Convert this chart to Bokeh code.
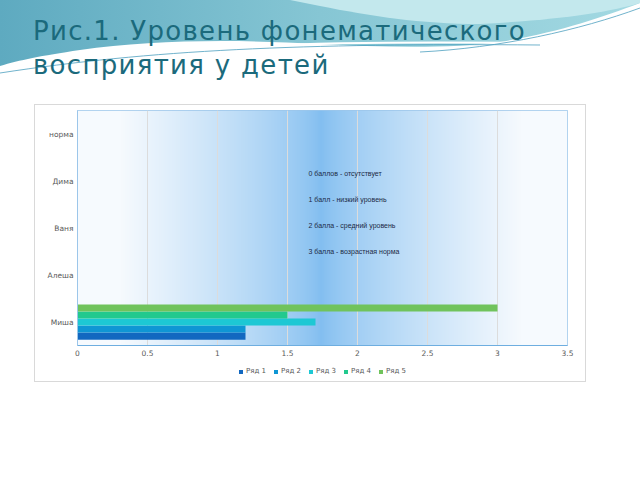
import numpy as np
from bokeh.plotting import figure
from bokeh.layouts import column
from bokeh.models import (FactorRange, Range1d, Legend, LegendItem, Label, Div,
                          FixedTicker, ColumnDataSource)
from bokeh.transform import dodge
from bokeh.embed import file_html
from bokeh.resources import INLINE

# ---- data ----
categories = ["Миша", "Алеша", "Ваня", "Дима", "норма"]
series_names = ["Ряд 1", "Ряд 2", "Ряд 3", "Ряд 4", "Ряд 5"]
series_values = {
    "Ряд 1": [1.2, 0, 0, 0, 0],
    "Ряд 2": [1.2, 0, 0, 0, 0],
    "Ряд 3": [1.7, 0, 0, 0, 0],
    "Ряд 4": [1.5, 0, 0, 0, 0],
    "Ряд 5": [3.0, 0, 0, 0, 0],
}
x_ticks = [0, 0.5, 1, 1.5, 2, 2.5, 3, 3.5]
notes = ["0 баллов - отсутствует", "1 балл - низкий уровень",
         "2 балла - средний уровень", "3 балла - возрастная норма"]
title_lines = ["Рис.1. Уровень фонематического", "восприятия у детей"]

# ---- styles ----
colors = ["#1268c0", "#0f96d4", "#1dc8d4", "#22c98e", "#70c35c"]
offsets = [-0.3, -0.15, 0.0, 0.15, 0.3]
bar_h = 0.15

# header (title + decorative wave)
wave_svg = (
    '<svg width="640" height="105" style="position:absolute;left:0;top:0">'
    '<defs><linearGradient id="g1" x1="0" x2="1" y1="0" y2="0">'
    '<stop offset="0" stop-color="#5eaac0"/><stop offset="0.5" stop-color="#86c6d4"/>'
    '<stop offset="1" stop-color="#a3d9e2"/></linearGradient></defs>'
    '<path d="M0,0 L640,0 L640,3 C600,18 560,32 500,42 C450,49 380,47 320,44 '
    'C230,39 150,40 80,50 C40,56 20,60 0,66 Z" fill="url(#g1)"/>'
    '<path d="M290,0 L640,0 L640,3 C610,12 560,20 480,24 C420,24 370,16 320,6 Z" fill="#c3e8ed"/>'
    '<path d="M0,70 C150,47 300,40 530,43" stroke="#ffffff" stroke-width="2" fill="none"/>'
    '<path d="M0,73 C150,50 300,43 540,45" stroke="#4d9fbf" stroke-width="0.8" fill="none"/>'
    '<path d="M420,52 C500,48 580,30 640,8" stroke="#4d9fbf" stroke-width="0.8" fill="none"/>'
    '</svg>'
)
title_html = (
    '<div style="position:relative;width:640px;height:105px;">' + wave_svg +
    '<div style="position:absolute;left:33px;top:14px;font-family:\'DejaVu Sans\';'
    'font-size:26px;line-height:34px;letter-spacing:1.3px;color:#1b6a7c;white-space:nowrap;">' +
    "<br>".join(title_lines) + '</div></div>'
)
header = Div(text=title_html, width=640, height=105, margin=(0, 0, 0, 0))

FW, FH = 490, 235
p = figure(frame_width=FW, frame_height=FH, y_range=FactorRange(*categories),
           x_range=Range1d(0, 3.5), output_backend="svg", toolbar_location=None,
           min_border_left=42, min_border_right=18, min_border_top=5, min_border_bottom=16,
           margin=(0, 0, 0, 0))
p.background_fill_color = "#f5f9fe"
p.border_fill_color = "white"
p.outline_line_color = "#9cc6ea"

# gradient background of the plot area
px = np.arange(FW)
d = np.abs(px - 243) / 200.0
t = np.clip(d, 0, 1) ** 0.75
c0 = np.array([130, 190, 240])
c1 = np.array([246, 250, 254])
cols = (c0[None, :] * (1 - t[:, None]) + c1[None, :] * t[:, None]).astype(np.uint32)
img = np.empty((1, FW), dtype=np.uint32)
view = img.view(dtype=np.uint8).reshape((1, FW, 4))
view[0, :, 0] = cols[:, 0]
view[0, :, 1] = cols[:, 1]
view[0, :, 2] = cols[:, 2]
view[0, :, 3] = 255
r_img = p.image_rgba(image=[img], x=0, y=0, dw=3.5, dh=len(categories))
r_img.level = "image"

src = ColumnDataSource(dict(cat=categories, **{k: v for k, v in series_values.items()}))
for name, col, off in zip(series_names, colors, offsets):
    p.hbar(y=dodge("cat", off, range=p.y_range), left=0, right=name, height=bar_h,
           source=src, fill_color=col, line_color=None)

# axes
p.xaxis.ticker = FixedTicker(ticks=x_ticks)
for ax in (p.xaxis[0], p.yaxis[0]):
    ax.major_tick_line_color = None
    ax.minor_tick_line_color = None
    ax.major_tick_out = 0
    ax.major_tick_in = 0
    ax.minor_tick_out = 0
    ax.major_label_text_font = "DejaVu Sans"
    ax.major_label_text_font_size = "7.5px"
    ax.major_label_text_color = "#595959"
    ax.major_label_standoff = 4
    ax.axis_line_color = "#6eaee0"
p.yaxis.axis_line_color = "#9cc6ea"
p.xgrid.grid_line_color = "#dcdcdc"
p.ygrid.grid_line_color = None

# notes inside chart (frame-relative screen px)
for i, line in enumerate(notes):
    p.add_layout(Label(x=231, y=172 - 26 * i, x_units="screen", y_units="screen",
                       text=line, text_font="Liberation Sans", text_font_size="7px",
                       text_color="#1c2a45", text_baseline="middle"))

# legend strip: a small figure whose view lies outside the data, holding the legend
lf = figure(width=550, height=20, x_range=Range1d(10, 11), y_range=Range1d(10, 11),
            x_axis_type=None, y_axis_type=None, output_backend="svg", toolbar_location=None,
            min_border=0, margin=(0, 0, 0, 0))
lf.outline_line_color = None
lf.background_fill_color = "white"
lf.border_fill_color = "white"
lf.xgrid.visible = False
lf.ygrid.visible = False
items = []
for name, col in zip(series_names, colors):
    proxy = lf.hbar(y=name, left=0, right=name, height=bar_h, source=src,
                    fill_color=col, line_color=None)
    items.append(LegendItem(label=name, renderers=[proxy], index=0))
legend = Legend(items=items, orientation="horizontal", location="center",
                label_text_font="DejaVu Sans", label_text_font_size="7px",
                label_text_color="#595959", glyph_width=5, glyph_height=5,
                label_standoff=3, spacing=7, padding=0, margin=0,
                label_height=7, border_line_color=None, background_fill_alpha=0)
lf.add_layout(legend, "center")

chart = column(p, lf, spacing=0, margin=(0, 0, 0, 35),
               styles={"outline": "1px solid #d9d9d9"})
layout = column(header, chart, spacing=0)
open("out.html", "w").write(file_html(layout, INLINE))
